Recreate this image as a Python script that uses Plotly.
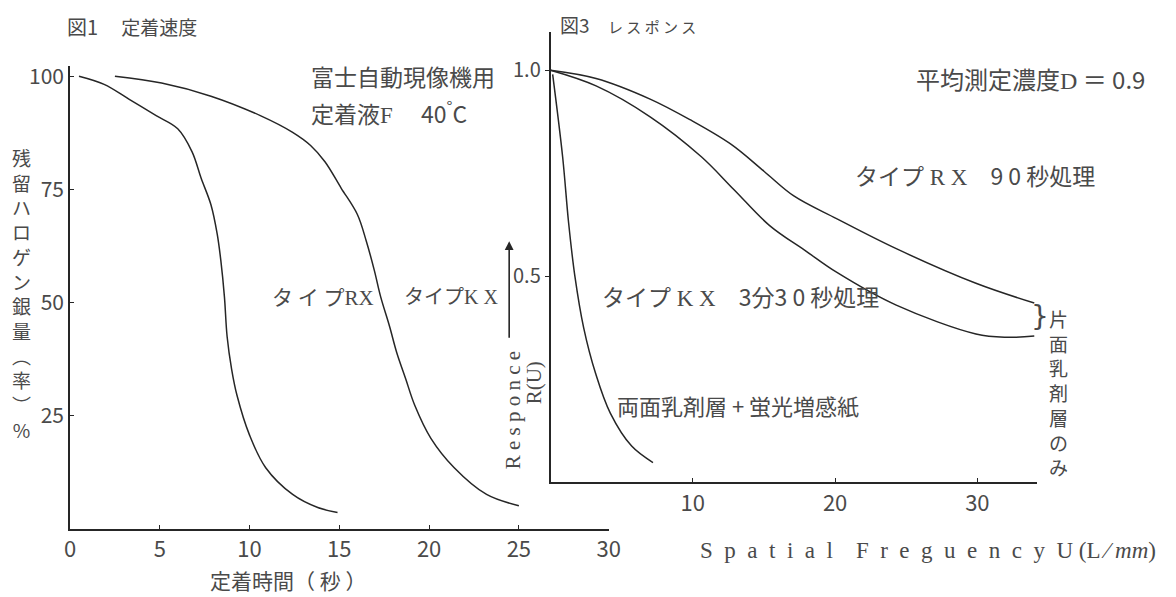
import plotly.graph_objects as go

W, H = 1176, 597

# Fig.1 fixing speed: residual silver halide (%) vs fixing time (s)
fix_time_rx = [0.5, 1.9, 3.3, 4.8, 6.0, 6.8, 7.3, 7.85, 8.2, 8.4, 8.6, 8.75, 9.0, 9.3, 10.0, 10.9, 12.4, 13.8, 14.9]
residual_rx = [100, 98.2, 94.9, 91.3, 88.4, 83.3, 77.5, 71.6, 65.1, 59.3, 51.3, 42.5, 35.3, 29.5, 20.7, 13.5, 7.6, 4.7, 3.6]
fix_time_kx = [2.5, 5.1, 7.85, 10.6, 12.4, 13.4, 14.2, 15.1, 16.0, 16.5, 16.95, 17.3, 17.8, 18.2, 18.7, 19.2, 20.1, 21.4, 23.2, 25.0]
residual_kx = [100, 98.5, 95.6, 91.3, 87.6, 84.7, 81.1, 75.3, 69.5, 63.6, 57.1, 51.3, 44.7, 38.9, 33.1, 27.3, 20.0, 13.5, 7.6, 5.1]
fix_ticks = [0, 5, 10, 15, 20, 25, 30]
residual_ticks = [25, 50, 75, 100]

# Fig.3 response R(U) vs spatial frequency U (L/mm)
freq_rx90 = [0, 3.2, 7.0, 9.8, 12.7, 15.0, 17.1, 20.1, 24.3, 29.9, 34.0]
resp_rx90 = [1.0, 0.98, 0.93, 0.88, 0.82, 0.755, 0.695, 0.64, 0.567, 0.483, 0.435]
freq_kx330 = [0, 3.2, 7.0, 10.6, 12.9, 15.4, 18.0, 20.1, 24.3, 29.9, 32.0, 34.0]
resp_kx330 = [1.0, 0.962, 0.887, 0.79, 0.71, 0.623, 0.56, 0.51, 0.43, 0.36, 0.352, 0.355]
freq_double = [0.15, 0.85, 1.27, 1.7, 2.33, 3.17, 4.2, 5.7, 7.2]
resp_double = [0.99, 0.79, 0.63, 0.503, 0.375, 0.264, 0.168, 0.088, 0.048]
freq_ticks = [10, 20, 30]
resp_ticks = [0.5, 1.0]
resp_tick_text = ["0.5", "1.0"]

INK = "#262626"
TXT = "#4a4a4a"
JP = "Noto Sans CJK JP"
SERIF = "Liberation Serif"


def px(x, y):
    return x / W, 1 - y / H


fig = go.Figure()
line = dict(color=INK, width=1.5, shape="spline", smoothing=1.0)
fig.add_trace(go.Scatter(x=fix_time_rx, y=residual_rx, mode="lines", line=line, xaxis="x", yaxis="y"))
fig.add_trace(go.Scatter(x=fix_time_kx, y=residual_kx, mode="lines", line=line, xaxis="x", yaxis="y"))
fig.add_trace(go.Scatter(x=freq_rx90, y=resp_rx90, mode="lines", line=line, xaxis="x2", yaxis="y2"))
fig.add_trace(go.Scatter(x=freq_kx330, y=resp_kx330, mode="lines", line=line, xaxis="x2", yaxis="y2"))
fig.add_trace(go.Scatter(x=freq_double, y=resp_double, mode="lines", line=line, xaxis="x2", yaxis="y2"))

axis_common = dict(showline=True, linecolor=INK, linewidth=1.6, showgrid=False, zeroline=False,
                   tickcolor=INK, tickwidth=1.2, tickfont=dict(family=JP, size=22, color=TXT))

fig.update_layout(
    width=W, height=H, autosize=False, showlegend=False,
    margin=dict(l=0, r=0, t=0, b=0, pad=0),
    paper_bgcolor="white", plot_bgcolor="rgba(0,0,0,0)",
    xaxis=dict(domain=[65 / W, 612 / W], range=[0, 30], tickvals=fix_ticks, ticks="inside",
               ticklen=4, anchor="y", **axis_common),
    yaxis=dict(domain=[(H - 528) / H, (H - 60) / H], range=[0, 102.2], tickvals=residual_ticks,
               ticks="inside", ticklen=4, anchor="x", **axis_common),
    xaxis2=dict(domain=[553 / W, 1047 / W], range=[0, 34.19], tickvals=freq_ticks, ticks="inside",
                ticklen=5, anchor="y2", **axis_common),
    yaxis2=dict(domain=[(H - 481) / H, (H - 25) / H], range=[0, 1.0935], tickvals=resp_ticks,
                ticktext=resp_tick_text, ticks="outside", ticklen=4, anchor="x2", **axis_common),
)
fig.layout.yaxis2.tickfont.size = 20
fig.layout.yaxis.tickfont.size = 21

ann = []


def text(x, y, s, size=20, xanchor="left", family=JP, color=TXT, **kw):
    ax, ay = px(x, y)
    ann.append(dict(x=ax, y=ay, xref="paper", yref="paper", text=s, showarrow=False,
                    xanchor=xanchor, yanchor="middle", font=dict(family=family, size=size, color=color), **kw))


def serif(s):
    return f"<span style='font-family:{SERIF}'>{s}</span>"


EN = "\u2002"  # en space for letter-spaced captions

text(60, 20, "図1<span style='font-size:19px'>　 定着速度</span>", size=20)
text(561, 18, "図3<span style='font-size:15px'>　 レ ス ポ ン ス</span>", size=19)
text(308, 70, "富士自動現像機用", size=23)
text(308, 106, "定着液" + serif("F") + "　 40<sup>°</sup>C", size=23)
text(922, 72, "平均測定濃度" + serif("D") + " ＝ 0.9", size=24)
text(860, 170, "タイプ" + serif(" R X") + "　9 0 秒処理", size=23)
text(603, 292, "タイプ" + serif(" K X") + "　3分3 0 秒処理", size=23)
text(618, 403, "両面乳剤層 + 蛍光増感紙", size=22)
text(268, 292, "タ イ プ" + serif("RX"), size=21)
text(402, 292, "タイプ" + serif("K X"), size=20)
text(205, 580, "定着時間（ 秒 ）", size=21)
spatial = EN.join("Spatial") + EN * 2 + EN.join("Freguency") + EN + "U (L ⁄ <i>mm</i>)"
text(703, 550, serif(spatial), size=23)

# vertical axis captions
text(16, 290, "<br>".join("残留ハロゲン銀量︵率︶%"), size=19, xanchor="center")
text(1069, 390, "<br>".join("片面乳剤層のみ"), size=19, xanchor="center")
text(1050, 313, "}", size=28, xanchor="center", family="DejaVu Sans")
text(515, 408, serif("R e s p o n c e"), size=21, xanchor="center", textangle=-90)
text(536, 380, serif("R(U)"), size=21, xanchor="center", textangle=-90)

# upward arrow beside the Response caption
tx, ty = px(511, 237)
ann.append(dict(x=tx, y=ty, xref="paper", yref="paper", text="", showarrow=True,
                ax=0, ay=98, axref="pixel", ayref="pixel", arrowhead=2, arrowsize=1.1,
                arrowwidth=1.6, arrowcolor=INK))

fig.update_layout(annotations=ann)
fig.write_html("out.html")
